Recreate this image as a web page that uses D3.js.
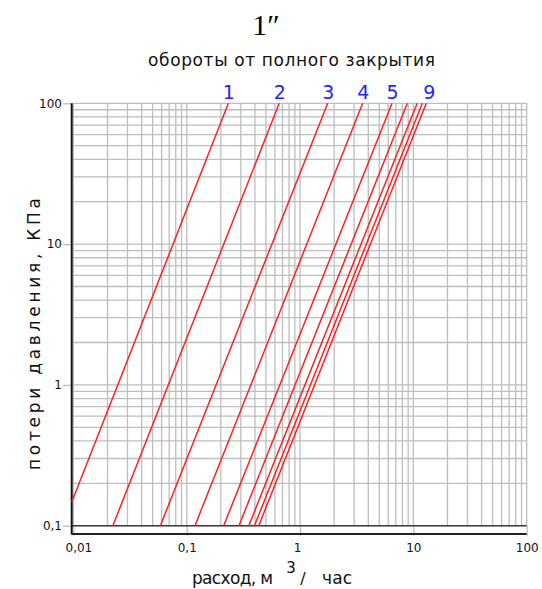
<!DOCTYPE html>
<html>
<head>
<meta charset="utf-8">
<script src="https://cdn.jsdelivr.net/npm/d3@7"></script>
<style>
  body { margin: 0; background: #fff; }
  text { font-family: "DejaVu Sans", sans-serif; }
</style>
</head>
<body>
<script>
var width = 542;
var height = 589;

// flow (m3/h) and pressure loss (kPa), one straight line per number of turns
var turnNames = ["1", "2", "3", "4", "5", "6", "7", "8", "9"];
var shownNames = ["1", "2", "3", "4", "5", "", "", "", "9"];
var qStart = [0.0097, 0.0223, 0.0585, 0.1182, 0.212, 0.289, 0.353, 0.396, 0.432];
var dpStart = [0.148, 0.1, 0.1, 0.1, 0.1, 0.1, 0.1, 0.1, 0.1];
var qEnd = [0.233, 0.655, 1.755, 3.57, 6.48, 8.84, 10.8, 12.0, 13.0];
var dpEnd = [100, 100, 100, 100, 100, 100, 100, 100, 100];

var xMajor = [0.01, 0.1, 1, 10, 100];
var yMajor = [0.1, 1, 10, 100];

var svg = d3.select("body").append("svg").attr("width", width).attr("height", height);

var x = d3.scaleLog().domain([0.01, 100]).range([73.4, 526.7]);
var y = d3.scaleLog().domain([0.1, 100]).range([525.7, 103.3]);

// minor + major grid values, 1..9 in each decade
var xGrid = [];
[0.01, 0.1, 1, 10].forEach(function(d) {
  d3.range(1, 10).forEach(function(k) { xGrid.push(d * k); });
});
xGrid.push(100);
var yGrid = [];
[0.1, 1, 10].forEach(function(d) {
  d3.range(1, 10).forEach(function(k) { yGrid.push(d * k); });
});
yGrid.push(100);

var gridColor = "#bebebe";

svg.append("g").selectAll("line").data(yGrid).enter().append("line")
  .attr("x1", 72).attr("x2", x(100))
  .attr("y1", function(d) { return y(d); })
  .attr("y2", function(d) { return y(d); })
  .attr("stroke", gridColor).attr("stroke-width", 1.3);

svg.append("g").selectAll("line").data(xGrid).enter().append("line")
  .attr("x1", function(d) { return x(d); })
  .attr("x2", function(d) { return x(d); })
  .attr("y1", y(100)).attr("y2", y(0.1))
  .attr("stroke", gridColor).attr("stroke-width", 1.3);

var fmt = function(d) { return String(d).replace(".", ","); };

var xAxis = svg.append("g").attr("transform", "translate(0," + y(0.1) + ")")
  .call(d3.axisBottom(x).tickValues(xMajor).tickFormat(fmt).tickSize(10).tickPadding(8));
var yAxis = svg.append("g").attr("transform", "translate(72,0)")
  .call(d3.axisLeft(y).tickValues(yMajor).tickFormat(fmt).tickSize(9).tickPadding(1));

[xAxis, yAxis].forEach(function(a) {
  a.select(".domain").remove();
  a.selectAll(".tick line").attr("stroke", gridColor).attr("stroke-width", 1.3);
  a.selectAll(".tick text").attr("fill", "#111").style("font-size", "12px")
    .style("font-family", "'DejaVu Sans', sans-serif");
});
xAxis.selectAll(".tick text").attr("dx", function(d) { return d == 0.01 ? 5 : (d == 1 ? -3 : 0); });

// frame
svg.append("line").attr("x1", 72).attr("x2", x(100)).attr("y1", y(0.1)).attr("y2", y(0.1))
  .attr("stroke", "#3a3a3a").attr("stroke-width", 1.6);
svg.append("line").attr("x1", 71.7).attr("x2", 71.7).attr("y1", y(100)).attr("y2", 534.5)
  .attr("stroke", "#111").attr("stroke-width", 2);
svg.append("line").attr("x1", 71.7).attr("x2", x(100)).attr("y1", 534).attr("y2", 534)
  .attr("stroke", "#222").attr("stroke-width", 2);

// curves
var curves = turnNames.map(function(n, i) {
  return { name: n, label: shownNames[i], pts: [[qStart[i], dpStart[i]], [qEnd[i], dpEnd[i]]] };
});
var line = d3.line().x(function(p) { return x(p[0]); }).y(function(p) { return y(p[1]); });

svg.append("g").selectAll("path").data(curves).enter().append("path")
  .attr("d", function(d) { return line(d.pts); })
  .attr("fill", "none").attr("stroke", "#ff2020").attr("stroke-width", 1.5);

svg.append("g").selectAll("text").data(curves.filter(function(d) { return d.label; })).enter().append("text")
  .attr("x", function(d) { return x(d.pts[1][0]) + (d.label == "9" ? 3 : 0.5); })
  .attr("y", 99)
  .attr("text-anchor", "middle")
  .attr("fill", "#1f1fff")
  .style("font-size", "19px")
  .text(function(d) { return d.label; });

// titles
svg.append("text").attr("x", 266).attr("y", 35).attr("text-anchor", "middle")
  .style("font-family", "'Liberation Serif', 'DejaVu Serif', serif").style("font-size", "30px")
  .text("1\u2033");

svg.append("text").attr("x", 148).attr("y", 66)
  .attr("textLength", 287).attr("lengthAdjust", "spacing")
  .style("font-size", "17px").attr("fill", "#111")
  .text("обороты от полного закрытия");

svg.append("text").attr("transform", "translate(40,470) rotate(-90)")
  .attr("textLength", 272).attr("lengthAdjust", "spacing")
  .style("font-size", "17px").attr("fill", "#111")
  .text("потери давления, КПа");

svg.append("text").attr("x", 192).attr("y", 584)
  .attr("textLength", 81).attr("lengthAdjust", "spacing")
  .style("font-size", "17px").attr("fill", "#111")
  .text("расход, м");
svg.append("text").attr("x", 291).attr("y", 573).attr("text-anchor", "middle")
  .style("font-size", "15px").attr("fill", "#111").text("3");
svg.append("text").attr("x", 303).attr("y", 584).attr("text-anchor", "middle")
  .style("font-size", "16px").attr("fill", "#111").text("/");
svg.append("text").attr("x", 322).attr("y", 584)
  .attr("textLength", 30).attr("lengthAdjust", "spacing")
  .style("font-size", "17px").attr("fill", "#111")
  .text("час");
</script>
</body>
</html>
